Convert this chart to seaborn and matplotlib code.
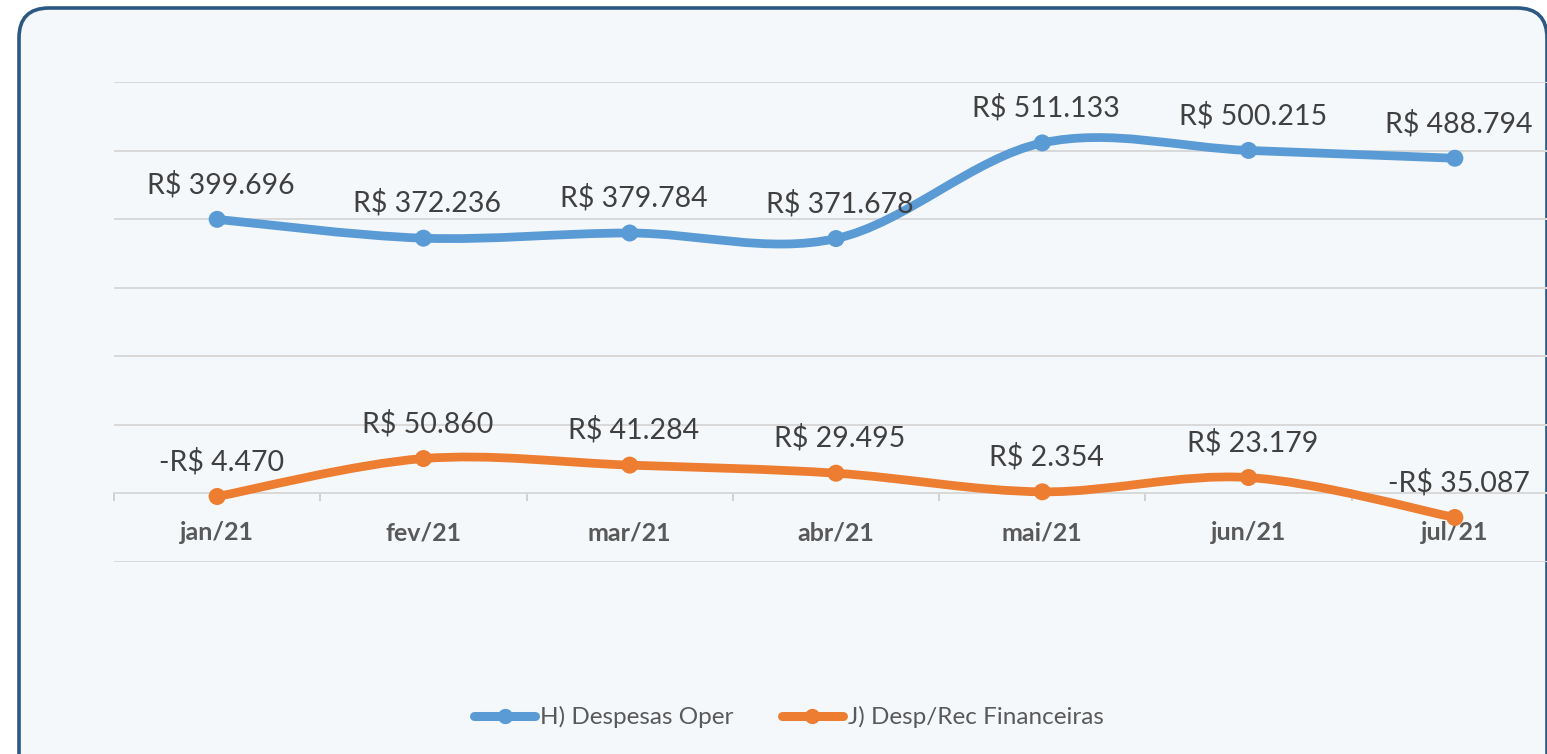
import numpy as np
import pandas as pd
import matplotlib
matplotlib.use("Agg")
import matplotlib.pyplot as plt
import seaborn as sns
from matplotlib.path import Path
from matplotlib.patches import PathPatch, FancyBboxPatch
from matplotlib.lines import Line2D
from matplotlib.transforms import IdentityTransform

# ---- data ----
months = ["jan/21", "fev/21", "mar/21", "abr/21", "mai/21", "jun/21", "jul/21"]
despesas_oper = [399696, 372236, 379784, 371678, 511133, 500215, 488794]
desp_rec_fin = [-4470, 50860, 41284, 29495, 2354, 23179, -35087]
series_names = ["H) Despesas Oper", "J) Desp/Rec Financeiras"]
colors = ["#5B9BD5", "#ED7D31"]

def fmt(v):
    s = f"{abs(v):,}".replace(",", ".")
    return ("-R$ " if v < 0 else "R$ ") + s

sns.set_theme(style="white")
plt.rcParams["font.family"] = ["Lato", "DejaVu Sans"]

fig = plt.figure(figsize=(15.47, 7.54), dpi=100)
fig.patch.set_facecolor("white")

# rounded frame (pixel coordinates)
frame = FancyBboxPatch((19, -60), 1528, 806,
                       boxstyle="round,pad=0,rounding_size=30",
                       transform=IdentityTransform(), facecolor="#F5F8FB",
                       edgecolor="#2C5884", linewidth=2.6, zorder=-5)
fig.patches.append(frame)

ax = fig.add_axes([114 / 1547, 1 - 562 / 754, 1444 / 1547, 480 / 754])
ax.set_zorder(2)
ax.set_facecolor("none")

df = pd.DataFrame({
    "month": months * 2,
    "x": list(range(len(months))) * 2,
    "value": despesas_oper + desp_rec_fin,
    "series": [series_names[0]] * len(months) + [series_names[1]] * len(months),
})

# smoothed lines (Bezier through the data points, drawn in data coordinates)
for vals, col in zip([despesas_oper, desp_rec_fin], colors):
    pts = np.column_stack([np.arange(len(vals)), np.array(vals, float)])
    verts = [pts[0]]
    codes = [Path.MOVETO]
    n = len(pts)
    for i in range(n - 1):
        p0 = pts[i - 1] if i > 0 else pts[i]
        p1 = pts[i]
        p2 = pts[i + 1]
        p3 = pts[i + 2] if i + 2 < n else pts[i + 1]
        c1 = p1 + (p2 - p0) / 6
        c2 = p2 - (p3 - p1) / 6
        verts += [c1, c2, p2]
        codes += [Path.CURVE4] * 3
    ax.add_patch(PathPatch(Path(verts, codes), facecolor="none", edgecolor=col,
                           linewidth=6.3, capstyle="round", joinstyle="round", zorder=3))

sns.scatterplot(data=df, x="x", y="value", hue="series", palette=colors,
                s=150, edgecolor="none", legend=False, ax=ax, zorder=4)

for vals in [despesas_oper, desp_rec_fin]:
    for i, v in enumerate(vals):
        ax.annotate(fmt(v), (i, v), xytext=(4, 35), textcoords="offset pixels",
                    ha="center", va="center", fontsize=20.5, color="#404040", zorder=5)

ax.set_xlim(-0.5, 6.5)
ax.set_ylim(-100000, 600000)
ax.set_yticks(np.arange(-100000, 600001, 100000))
ax.yaxis.grid(True, color="#D9D9D9", linewidth=1.4)
ax.set_axisbelow(True)
ax.tick_params(axis="y", left=False, labelleft=False)
for s in ["left", "right", "top"]:
    ax.spines[s].set_visible(False)
ax.spines["bottom"].set_position(("data", 0))
ax.spines["bottom"].set_color("#D9D9D9")
ax.spines["bottom"].set_linewidth(1.4)
ax.set_xticks(range(len(months)))
ax.set_xticklabels(months, fontsize=18, fontweight="bold", color="#595959")
ax.set_xticks(np.arange(-0.5, 7, 1), minor=True)
ax.tick_params(axis="x", which="major", length=0, pad=20)
ax.tick_params(axis="x", which="minor", bottom=True, length=6, width=1.4,
               color="#D0D0D0", direction="out")
ax.set_xlabel("")
ax.set_ylabel("")

handles = [Line2D([0], [0], color=c, linewidth=6.5, marker="o", markersize=10,
                  solid_capstyle="round") for c in colors]
fig.legend(handles, series_names, loc="center", bbox_to_anchor=(789 / 1547, 1 - 717 / 754),
           ncol=2, frameon=False, fontsize=17.5, labelcolor="#595959",
           handlelength=2.5, handletextpad=0.2, columnspacing=2.0)

fig.savefig("out.png", dpi=100, facecolor="white")
